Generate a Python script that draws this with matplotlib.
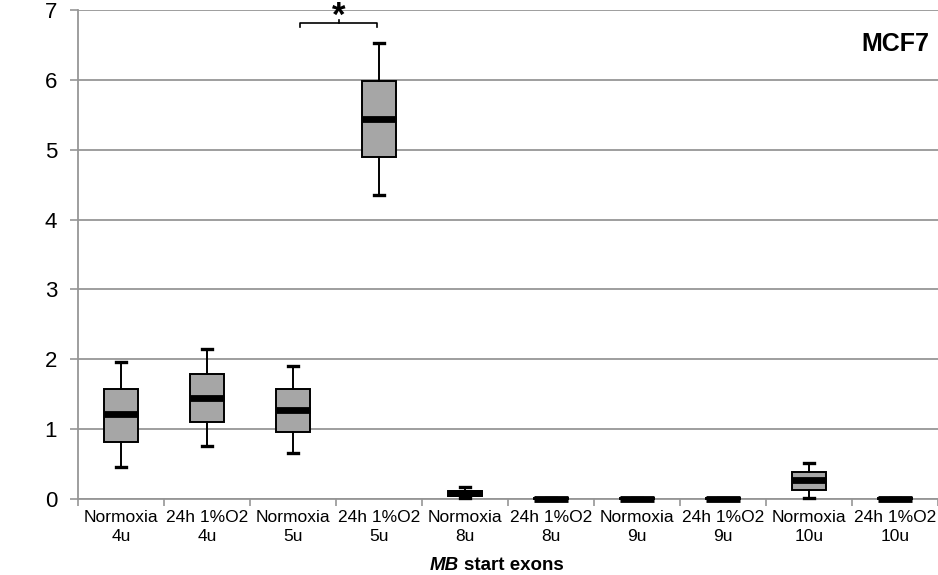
import matplotlib
matplotlib.use('Agg')
import matplotlib.pyplot as plt
import numpy as np

plt.rcParams['font.family'] = ['Liberation Sans', 'DejaVu Sans']

# valores
grupos = ['Normoxia\n4u', '24h 1%O2\n4u', 'Normoxia\n5u', '24h 1%O2\n5u',
          'Normoxia\n8u', '24h 1%O2\n8u', 'Normoxia\n9u', '24h 1%O2\n9u',
          'Normoxia\n10u', '24h 1%O2\n10u']
whis_baixo = [0.46, 0.76, 0.66, 4.35, 0.02, 0.0, 0.0, 0.0, 0.02, 0.0]
q1 = [0.82, 1.10, 0.96, 4.90, 0.04, 0.0, 0.0, 0.0, 0.13, 0.0]
mediana = [1.21, 1.45, 1.27, 5.44, 0.08, 0.0, 0.0, 0.0, 0.27, 0.0]
q3 = [1.57, 1.79, 1.58, 5.98, 0.11, 0.01, 0.01, 0.01, 0.38, 0.01]
whis_alto = [1.96, 2.15, 1.90, 6.53, 0.17, 0.02, 0.02, 0.02, 0.52, 0.02]
yticks = [0, 1, 2, 3, 4, 5, 6, 7]

W, H = 938, 575
fig = plt.figure(figsize=(W / 100, H / 100), dpi=100)
ax = fig.add_axes([78 / W, (H - 499) / H, 1 - 78 / W, (499 - 10) / H])

stats = []
for i, g in enumerate(grupos):
    stats.append(dict(label=g, whislo=whis_baixo[i], q1=q1[i], med=mediana[i],
                      q3=q3[i], whishi=whis_alto[i], fliers=[]))

pos = np.arange(len(grupos))
bp = ax.bxp(stats, positions=pos, widths=0.4, patch_artist=True, showfliers=False,
            capwidths=0.12,
            boxprops=dict(facecolor='#a6a6a6', edgecolor='black', linewidth=1.4),
            medianprops=dict(color='black', linewidth=4.9, solid_capstyle='butt'),
            whiskerprops=dict(color='black', linewidth=1.4),
            capprops=dict(color='black', linewidth=2.4), zorder=3)
for k in ['boxes', 'medians', 'whiskers', 'caps']:
    for art in bp[k]:
        art.set_clip_on(False)

ax.set_xlim(-0.5, len(grupos) - 0.5)
ax.set_ylim(0, 7)
ax.set_yticks(yticks)
ax.tick_params(axis='y', labelsize=16, length=6, width=1.2, color='#969696', pad=9)
ax.set_xticks(np.arange(len(grupos) + 1) - 0.5)
ax.set_xticklabels([])
ax.set_xticks(pos, minor=True)
ax.set_xticklabels(grupos, minor=True, fontsize=12.5, linespacing=1.35)
ax.tick_params(axis='x', which='major', length=5, width=1.2, color='#969696')
ax.tick_params(axis='x', which='minor', length=0, pad=8)

ax.grid(axis='y', color='#969696', linewidth=1.3, zorder=0)
ax.set_axisbelow(True)
for s in ['top', 'right']:
    ax.spines[s].set_visible(False)
for s in ['left', 'bottom']:
    ax.spines[s].set_color('#969696')
    ax.spines[s].set_linewidth(1.3)

# colchete de significancia
ax.plot([2.08, 2.08, 2.98, 2.98], [6.75, 6.81, 6.81, 6.75], color='black', lw=1.2, clip_on=False)
ax.plot([2.53, 2.53], [6.81, 6.86], color='black', lw=1.2, clip_on=False)
xa = ax.transData.transform((2.53, 0))[0] / W
fig.text(xa, 1.0, '*', ha='center', va='top', fontsize=25, fontweight='bold')

ax.text(0.99, 0.93, 'MCF7', transform=ax.transAxes, ha='right', va='center',
        fontsize=18, fontweight='bold')

fig.text(459 / W, 1 - 565 / H, 'MB', ha='right', va='center', fontsize=13.5,
         fontweight='bold', fontstyle='italic')
fig.text(464 / W, 1 - 565 / H, 'start exons', ha='left', va='center', fontsize=13.5,
         fontweight='bold')

fig.savefig('out.png', dpi=100, facecolor='white')
